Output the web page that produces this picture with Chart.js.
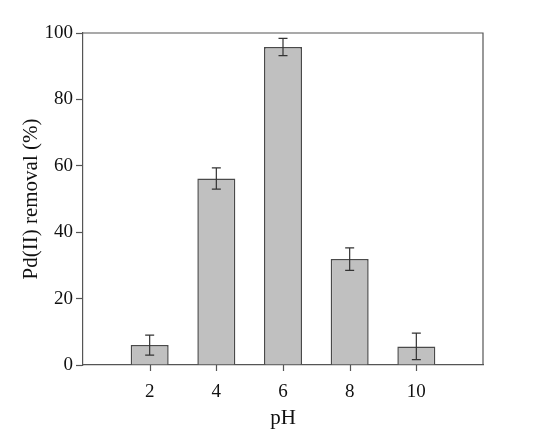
<!DOCTYPE html>
<html>
<head>
<meta charset="utf-8">
<script src="https://cdn.jsdelivr.net/npm/chart.js@4"></script>
<style>
  html, body { margin: 0; padding: 0; background: #fff; }
  #wrap { width: 550px; height: 440px; }
</style>
</head>
<body>
<div id="wrap"><canvas id="phChart" width="550" height="440"></canvas></div>
<script>
// pH categories and Pd(II) removal with error
const phValues = [2, 4, 6, 8, 10];
const removal = [6.0, 56.2, 95.8, 31.9, 5.6];
const removalErr = [3.0, 3.2, 2.6, 3.4, 4.0];
const yTicks = [0, 20, 40, 60, 80, 100];

const serif = "'Times New Roman', 'Liberation Serif', Times, serif";
const axisColor = "#555";

// error bars, x tick marks, frame
const errorBars = {
    id: "errorBars",
    afterDatasetsDraw(chart) {
        const ctx = chart.ctx;
        const x = chart.scales.x;
        const y = chart.scales.y;
        const meta = chart.getDatasetMeta(0);
        ctx.save();
        ctx.strokeStyle = "#333";
        ctx.lineWidth = 1.2;
        meta.data.forEach((bar, i) => {
            const top = y.getPixelForValue(removal[i] + removalErr[i]);
            const bot = y.getPixelForValue(removal[i] - removalErr[i]);
            ctx.beginPath();
            ctx.moveTo(bar.x, top); ctx.lineTo(bar.x, bot);
            ctx.moveTo(bar.x - 4.5, top); ctx.lineTo(bar.x + 4.5, top);
            ctx.moveTo(bar.x - 4.5, bot); ctx.lineTo(bar.x + 4.5, bot);
            ctx.stroke();
        });
        const a = chart.chartArea;
        ctx.strokeStyle = axisColor;
        ctx.beginPath();
        x.ticks.forEach(t => {
            const px = Math.round(x.getPixelForValue(t.value)) + 0.5;
            ctx.moveTo(px, a.bottom); ctx.lineTo(px, a.bottom + 6);
        });
        ctx.moveTo(a.left, a.top); ctx.lineTo(a.right, a.top); ctx.lineTo(a.right, a.bottom);
        ctx.stroke();
        ctx.restore();
    }
};

new Chart(document.getElementById("phChart"), {
    type: "bar",
    data: {
        datasets: [{
            data: phValues.map((p, i) => ({ x: p, y: removal[i] })),
            backgroundColor: "#c0c0c0",
            borderColor: "#4a4a4a",
            borderWidth: 1.5,
            categoryPercentage: 1,
            barPercentage: 0.57
        }]
    },
    options: {
        responsive: false,
        animation: false,
        layout: { padding: { top: 33, right: 67, left: 15, bottom: 9 } },
        plugins: { legend: { display: false }, tooltip: { enabled: false } },
        scales: {
            x: {
                type: "linear",
                min: 0,
                max: 12,
                offset: false,
                afterBuildTicks: s => { s.ticks = phValues.map(v => ({ value: v })); },
                afterFit: s => { s.height = 66; },
                grid: { display: false },
                border: { display: true, color: axisColor, width: 1.2 },
                ticks: { color: "#111", font: { family: serif, size: 19 }, padding: 8 },
                title: { display: true, text: "pH", color: "#111", font: { family: serif, size: 21 }, padding: { top: 2, bottom: 0 } }
            },
            y: {
                min: 0,
                max: 100,
                afterBuildTicks: s => { s.ticks = yTicks.map(v => ({ value: v })); },
                afterFit: s => { s.width = 68; },
                grid: { drawOnChartArea: false, tickLength: 7, tickWidth: 1.2, tickColor: axisColor },
                border: { color: axisColor, width: 1.2 },
                ticks: { color: "#111", font: { family: serif, size: 19 }, padding: 3 },
                title: { display: true, text: "Pd(II) removal (%)", color: "#111", font: { family: serif, size: 21 }, padding: { bottom: 4 } }
            }
        }
    },
    plugins: [errorBars]
});
</script>
</body>
</html>
